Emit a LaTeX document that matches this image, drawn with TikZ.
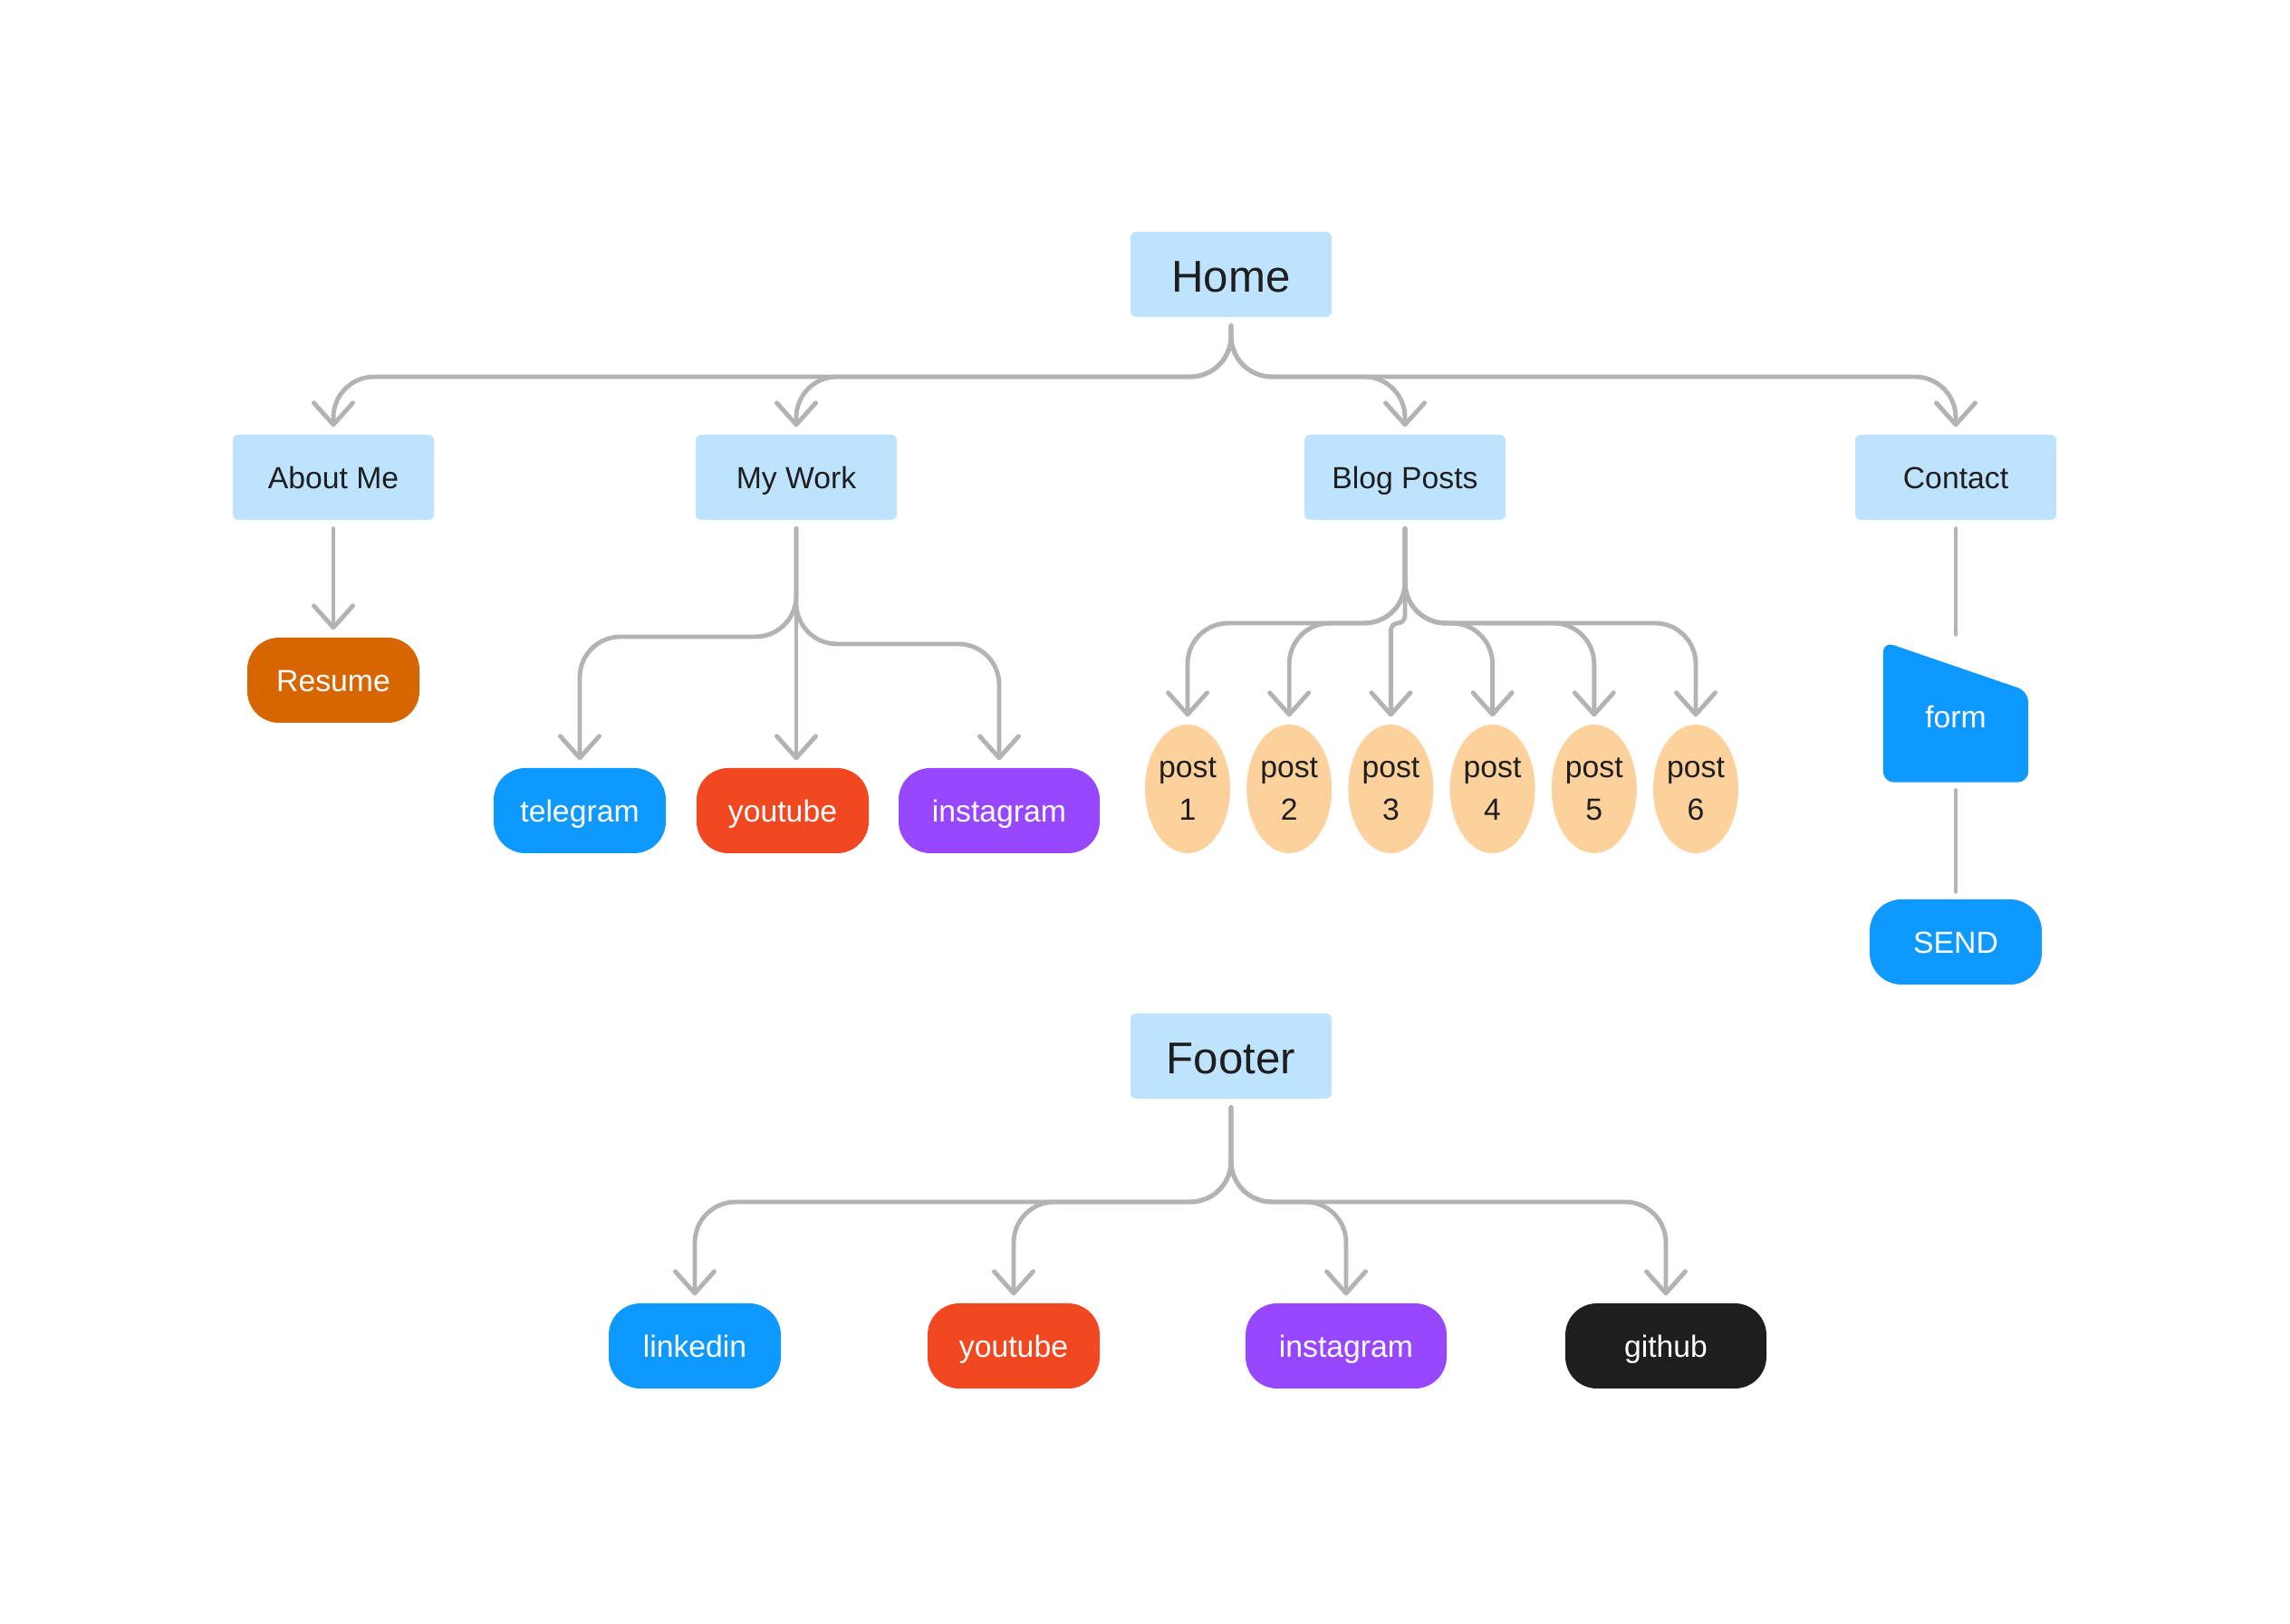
\documentclass[tikz,border=0pt]{standalone}
\usepackage{fontspec}
\setmainfont{Liberation Sans}
\usetikzlibrary{arrows.meta, positioning, calc, shapes.geometric, backgrounds}

\definecolor{pageblue}{RGB}{189,227,254}
\definecolor{inkdark}{RGB}{30,30,30}
\definecolor{wiregray}{RGB}{179,179,179}
\definecolor{skyblue}{RGB}{13,153,255}
\definecolor{tubered}{RGB}{242,72,34}
\definecolor{grampurple}{RGB}{151,71,255}
\definecolor{hubblack}{RGB}{30,30,30}
\definecolor{cvorange}{RGB}{216,102,0}
\definecolor{peach}{RGB}{252,209,156}

\begin{document}
\begin{tikzpicture}[>={Straight Barb[length=2.4mm, width=4.3mm, round]},
  pagebox/.style={fill=pageblue, text=inkdark, rounded corners=0.6mm, minimum width=2.22cm, minimum height=0.94cm, text height=9.2pt, text depth=2pt, font=\fontsize{9.6}{11}\selectfont},
  bigpage/.style={pagebox, text height=13.9pt, text depth=2.9pt, font=\fontsize{14}{16}\selectfont},
  pill/.style={fill=#1, text=white, rounded corners=3.5mm, minimum width=1.9cm, minimum height=0.94cm, text height=9.2pt, text depth=2pt, font=\fontsize{9.6}{11}\selectfont},
  widepill/.style={pill=#1, minimum width=2.22cm},
  postbubble/.style={ellipse, fill=peach, text=inkdark, inner sep=0pt, minimum width=0.94cm, minimum height=1.42cm, align=center, font=\fontsize{9.6}{13.3}\selectfont},
  formbox/.style={text=white, minimum width=1.59cm, minimum height=1.54cm, text height=9.8pt, text depth=0pt, font=\fontsize{9.6}{11}\selectfont},
  wire/.style={draw=wiregray, line width=1.4pt, line cap=round, rounded corners=4.5mm, shorten <=0.09cm, shorten >=0.08cm}]

  \useasboundingbox (0,0) rectangle (25.28,17.92);

  % Top level pages
  \node[bigpage] (Home) at (13.59,14.89) {Home};
  \node[pagebox] (About) at (3.68,12.65) {About Me};
  \node[pagebox] (Work) at (8.79,12.65) {My Work};
  \node[pagebox] (Blog) at (15.51,12.65) {Blog Posts};
  \node[pagebox] (Contact) at (21.59,12.65) {Contact};

  % Children of About Me and My Work
  \node[pill=cvorange] (Resume) at (3.68,10.41) {Resume};
  \node[pill=skyblue] (Telegram) at (6.40,8.97) {telegram};
  \node[pill=tubered] (Youtube) at (8.64,8.97) {youtube};
  \node[widepill=grampurple] (Instagram) at (11.03,8.97) {instagram};

  % Blog posts, one every 1.122
  \foreach \i in {1,...,6}
    \node[postbubble] (post\i) at ({13.11+1.122*(\i-1)},9.21) {post\\\i};

  % Contact form and send button
  \node[formbox] (form) at (21.59,10.06) {form};
  \begin{scope}[on background layer]
    \fill[skyblue, rounded corners=1.2mm] (form.north west) -- ($(form.north east)+(0,-0.55)$)
      -- (form.south east) -- (form.south west) -- cycle;
  \end{scope}
  \node[pill=skyblue] (Send) at (21.59,7.52) {SEND};

  % Footer and its links
  \node[bigpage] (Footer) at (13.59,6.26) {Footer};
  \node[pill=skyblue] (Linkedin) at (7.67,3.06) {linkedin};
  \node[pill=tubered] (Youtube2) at (11.19,3.06) {youtube};
  \node[widepill=grampurple] (Instagram2) at (14.86,3.06) {instagram};
  \node[widepill=hubblack] (Github) at (18.39,3.06) {github};

  % Levels of the horizontal runs
  \coordinate (homebus) at (0,13.76);
  \coordinate (workbusL) at (0,10.89);
  \coordinate (workbusR) at (0,10.81);
  \coordinate (blogbus) at (0,11.04);
  \coordinate (footbus) at (0,4.65);

  % Home to pages
  \foreach \c in {About,Work,Blog,Contact}
    \draw[wire,->] (Home.south) |- (\c.north |- homebus) -- (\c.north);

  \draw[wire,->] (About.south) -- (Resume.north);

  % My Work to channels
  \draw[wire,->] (Work.south) |- (Telegram.north |- workbusL) -- (Telegram.north);
  \draw[wire,->] (Work.south) -- (Work.south |- Youtube.north);
  \draw[wire,->] (Work.south) |- (Instagram.north |- workbusR) -- (Instagram.north);

  % Blog Posts to posts
  \foreach \i in {1,2,4,5,6}
    \draw[wire,->] (Blog.south) |- (post\i.north |- blogbus) -- (post\i.north);
  \draw[wire,->,rounded corners=0.8mm] (Blog.south) |- (post3.north |- blogbus) -- (post3.north);

  % Contact chain, no tips
  \draw[wire] (Contact.south) -- (form.north);
  \draw[wire] (form.south) -- (Send.north);

  % Footer to links
  \foreach \c in {Linkedin,Youtube2,Instagram2,Github}
    \draw[wire,->] (Footer.south) |- (\c.north |- footbus) -- (\c.north);

\end{tikzpicture}
\end{document}
